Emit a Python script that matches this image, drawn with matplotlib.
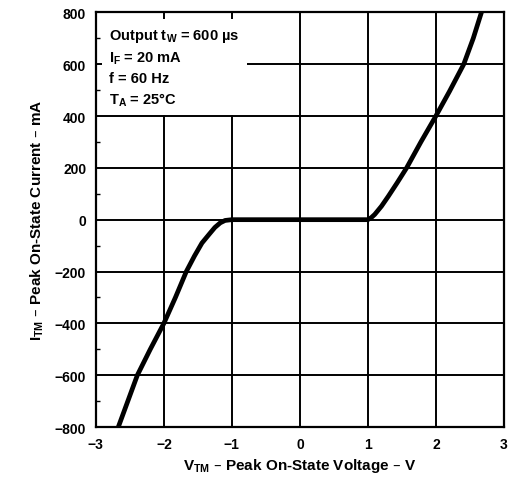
import numpy as np
import matplotlib.pyplot as plt
from matplotlib.ticker import MultipleLocator

# curve
v_neg = [-2.67, -2.53, -2.39, -2.2, -2.0, -1.83, -1.67, -1.55, -1.44, -1.33, -1.25, -1.17, -1.1, -1.0]
i_neg = [-800, -700, -600, -500, -400, -300, -200, -140, -90, -55, -30, -12, -3, 0]
v_mid = [-1.0, 1.0]
i_mid = [0, 0]
v_pos = [1.0, 1.05, 1.1, 1.2, 1.3, 1.43, 1.57, 1.78, 2.0, 2.2, 2.41, 2.55, 2.67]
i_pos = [0, 8, 20, 52, 90, 142, 200, 300, 400, 495, 600, 700, 800]

x_ticks = [-3, -2, -1, 0, 1, 2, 3]
y_ticks = [-800, -600, -400, -200, 0, 200, 400, 600, 800]

plt.rcParams['font.family'] = ['Liberation Sans', 'DejaVu Sans']
plt.rcParams['font.weight'] = 'bold'

fig = plt.figure(figsize=(5.1, 4.85), dpi=100)
ax = fig.add_axes([0.188, 0.1175, 0.8, 0.855])

v = v_neg + v_mid[1:] + v_pos[1:]
i = i_neg + i_mid[1:] + i_pos[1:]
ax.plot(v, i, color='black', linewidth=3.4, solid_capstyle='round',
        solid_joinstyle='round', zorder=3)

ax.set_xlim(-3, 3)
ax.set_ylim(-800, 800)
ax.set_xticks(x_ticks)
ax.set_yticks(y_ticks)
ax.set_xticklabels(['\u22123', '\u22122', '\u22121', '0', '1', '2', '3'], fontsize=10, fontweight='bold')
ax.set_yticklabels([('\u2212' + str(-t)) if t < 0 else str(t) for t in y_ticks], fontsize=10, fontweight='bold')
ax.yaxis.set_minor_locator(MultipleLocator(100))
ax.tick_params(which='both', direction='in', length=3, width=1)
ax.tick_params(which='major', length=0, pad=7)
ax.grid(True, color='black', linewidth=1.4)
for s in ax.spines.values():
    s.set_linewidth(1.6)

ax.set_xlabel('V$_{\\mathregular{TM}}$ \u2013 Peak On-State Voltage \u2013 V',
              fontsize=11, fontweight='bold', labelpad=4)
ax.set_ylabel('I$_{\\mathregular{TM}}$ \u2013 Peak On-State Current \u2013 mA',
              fontsize=11, fontweight='bold', labelpad=6)

ax.text(-2.8, 745,
        'Output t$_{\\mathregular{W}}$ = 600 \u00b5s\n'
        'I$_{\\mathregular{F}}$ = 20 mA\n'
        'f = 60 Hz\n'
        'T$_{\\mathregular{A}}$ = 25\u00b0C',
        fontsize=10.5, fontweight='bold', va='top', ha='left', linespacing=1.45,
        bbox=dict(facecolor='white', edgecolor='none', pad=5), zorder=4)

plt.savefig('out.png', dpi=100)
